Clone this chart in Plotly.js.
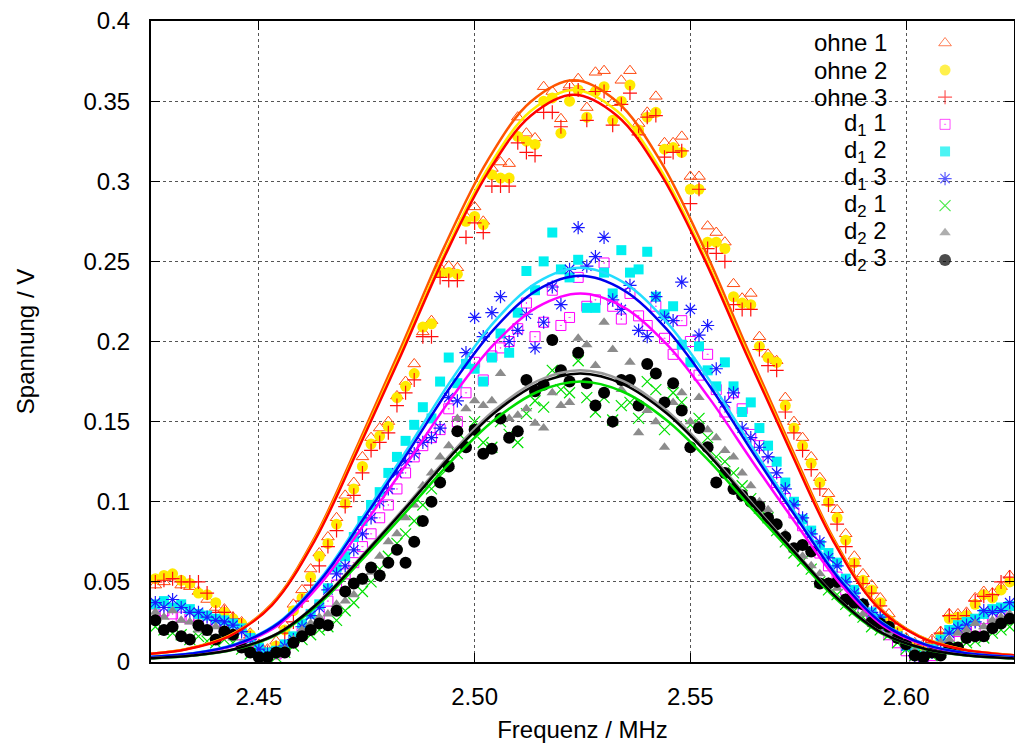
<!DOCTYPE html>
<html><head><meta charset="utf-8">
<script src="https://cdn.plot.ly/plotly-3.0.1.min.js"></script>
<style>html,body{margin:0;padding:0;background:#fff}#chart{width:1015px;height:747px}</style>
</head><body><div id="chart"></div>
<script>
// ---------- data ----------
const freq = [2.426,2.428,2.430,2.432,2.434,2.436,2.438,2.440,2.442,2.444,
2.446,2.448,2.450,2.452,2.454,2.456,2.458,2.460,2.462,2.464,
2.466,2.468,2.470,2.472,2.474,2.476,2.478,2.480,2.482,2.484,
2.486,2.488,2.490,2.492,2.494,2.496,2.498,2.500,2.502,2.504,
2.506,2.508,2.510,2.512,2.514,2.516,2.518,2.520,2.522,2.524,
2.526,2.528,2.530,2.532,2.534,2.536,2.538,2.540,2.542,2.544,
2.546,2.548,2.550,2.552,2.554,2.556,2.558,2.560,2.562,2.564,
2.566,2.568,2.570,2.572,2.574,2.576,2.578,2.580,2.582,2.584,
2.586,2.588,2.590,2.592,2.594,2.596,2.598,2.600,2.602,2.604,
2.606,2.608,2.610,2.612,2.614,2.616,2.618,2.620,2.622,2.624];

const ohne1 = [.048,.050,.053,.048,.047,.044,.039,.034,.033,.028,
.025,.018,.011,.008,.013,.023,.036,.045,.058,.068,
.078,.090,.104,.112,.128,.140,.146,.150,.166,.175,
.186,.206,.213,.246,.247,.246,.278,.284,.275,.308,
.312,.311,.340,.330,.327,.359,.356,.339,.360,.364,
.346,.368,.369,.349,.363,.369,.336,.343,.353,.324,
.324,.328,.303,.303,.272,.268,.262,.236,.227,.230,
.203,.192,.188,.165,.150,.140,.128,.115,.105,.095,
.080,.066,.055,.048,.040,.030,.022,.015,.012,.011,
.014,.019,.030,.030,.031,.040,.044,.043,.047,.054];

const ohne2 = [.052,.054,.055,.051,.049,.043,.042,.037,.031,.027,
.024,.017,.010,.006,.010,.020,.032,.040,.053,.066,
.074,.086,.099,.108,.122,.136,.141,.147,.165,.172,
.180,.209,.211,.243,.243,.242,.275,.278,.273,.304,
.302,.302,.328,.325,.323,.350,.352,.330,.350,.357,
.340,.356,.359,.338,.350,.360,.332,.340,.343,.320,
.321,.318,.295,.295,.262,.262,.258,.228,.224,.223,
.197,.190,.187,.160,.146,.135,.124,.112,.100,.090,
.076,.062,.051,.045,.037,.026,.019,.012,.010,.008,
.010,.016,.027,.028,.029,.036,.042,.040,.045,.050];

const ohne3 = [.050,.051,.052,.050,.050,.050,.043,.031,.031,.027,
.023,.015,.009,.006,.009,.018,.025,.038,.048,.060,
.072,.082,.097,.104,.118,.132,.137,.143,.160,.168,
.176,.203,.203,.240,.238,.238,.265,.274,.268,.297,
.297,.297,.324,.318,.316,.343,.343,.334,.357,.357,
.338,.356,.356,.335,.348,.355,.329,.340,.341,.315,
.318,.319,.286,.295,.258,.255,.250,.223,.220,.220,
.195,.185,.182,.156,.143,.132,.120,.108,.098,.086,
.072,.060,.049,.043,.035,.024,.017,.011,.010,.011,
.012,.018,.029,.027,.029,.038,.041,.042,.050,.053];

const d1_1 = [.030,.032,.030,.028,.027,.028,.025,.024,.022,.020,
.017,.013,.007,.004,.005,.008,.013,.018,.024,.030,
.038,.048,.055,.062,.072,.080,.090,.098,.108,.118,
.128,.135,.140,.145,.158,.150,.168,.187,.176,.191,
.196,.200,.208,.224,.203,.212,.232,.210,.215,.240,
.222,.226,.249,.222,.214,.230,.216,.210,.222,.202,
.192,.213,.200,.179,.192,.170,.156,.168,.158,.142,
.135,.125,.112,.102,.093,.085,.075,.068,.060,.053,
.045,.038,.032,.027,.023,.017,.012,.007,.002,.001,
.004,.010,.016,.019,.020,.022,.027,.027,.029,.031];

const d1_2 = [.036,.038,.034,.036,.033,.030,.029,.027,.026,.024,
.021,.015,.009,.006,.007,.011,.016,.024,.030,.036,
.046,.059,.066,.078,.088,.098,.106,.118,.128,.138,
.148,.159,.152,.175,.190,.174,.186,.183,.175,.190,
.205,.193,.218,.244,.232,.250,.268,.245,.240,.251,
.221,.221,.243,.230,.257,.243,.245,.256,.228,.217,
.222,.198,.187,.197,.182,.172,.187,.172,.156,.162,
.146,.135,.125,.112,.100,.089,.082,.073,.068,.062,
.052,.045,.036,.031,.027,.022,.016,.010,.006,.004,
.008,.014,.020,.023,.025,.027,.030,.033,.034,.035];

const d1_3 = [.037,.034,.039,.034,.031,.031,.028,.026,.025,.023,
.019,.014,.008,.005,.006,.010,.014,.022,.029,.034,
.045,.055,.060,.070,.080,.090,.100,.108,.118,.125,
.130,.137,.140,.146,.165,.163,.193,.215,.203,.218,
.228,.200,.207,.217,.196,.212,.234,.223,.245,.271,
.247,.253,.265,.226,.220,.235,.207,.203,.228,.215,
.213,.237,.220,.204,.210,.183,.162,.168,.146,.140,
.134,.128,.118,.108,.098,.090,.080,.075,.065,.060,
.050,.043,.036,.031,.028,.020,.016,.010,.004,.003,
.006,.012,.018,.021,.023,.025,.032,.031,.032,.037];

const d2_1 = [.022,.020,.018,.017,.014,.016,.013,.012,.014,.012,
.008,.005,.002,.001,.003,.006,.010,.014,.017,.020,
.022,.026,.032,.037,.044,.050,.058,.066,.074,.080,
.088,.098,.108,.116,.124,.130,.138,.150,.137,.134,
.150,.142,.137,.155,.163,.159,.182,.170,.168,.188,
.165,.156,.165,.151,.160,.162,.152,.175,.170,.145,
.168,.162,.148,.152,.140,.128,.125,.118,.110,.102,
.096,.090,.082,.075,.068,.063,.058,.050,.045,.042,
.036,.032,.028,.022,.020,.017,.012,.008,.004,.002,
.004,.006,.008,.010,.012,.013,.015,.018,.020,.022];

const d2_2 = [.031,.028,.032,.026,.025,.020,.018,.022,.016,.015,
.012,.008,.004,.003,.004,.008,.014,.020,.024,.028,
.030,.036,.038,.042,.050,.056,.066,.075,.080,.090,
.098,.110,.118,.128,.135,.152,.158,.163,.160,.163,
.180,.152,.154,.158,.149,.146,.168,.160,.162,.202,
.198,.185,.212,.195,.170,.187,.143,.157,.150,.134,
.162,.168,.150,.165,.145,.140,.132,.128,.118,.110,
.100,.095,.086,.080,.070,.066,.060,.055,.050,.046,
.040,.036,.030,.026,.022,.018,.015,.010,.007,.005,
.008,.012,.014,.018,.020,.024,.022,.026,.028,.030];

const d2_3 = [.026,.020,.022,.016,.014,.023,.020,.014,.019,.017,
.009,.006,.003,.003,.006,.006,.012,.016,.020,.024,
.023,.032,.044,.049,.052,.059,.054,.062,.070,.062,
.075,.088,.100,.112,.122,.144,.134,.145,.130,.133,
.152,.140,.144,.176,.169,.173,.201,.182,.175,.193,
.174,.160,.168,.150,.176,.176,.160,.186,.180,.162,
.174,.157,.134,.146,.134,.112,.118,.108,.104,.100,
.097,.090,.086,.078,.071,.073,.069,.049,.049,.050,
.039,.037,.036,.025,.024,.022,.015,.011,.004,.003,
.006,.004,.009,.009,.015,.016,.016,.021,.024,.027];

// fit curves
const fitFreqOhne = [2.413,2.423,2.433,2.443,2.453,2.463,2.473,2.483,2.493,2.503,2.513,2.523,
2.533,2.543,2.553,2.563,2.573,2.583,2.593,2.603,2.613,2.623,2.633];
const fitFreqD = [2.4145,2.4245,2.4345,2.4445,2.4545,2.4645,2.4745,2.4845,2.4945,2.5045,2.5145,2.5245,
2.5345,2.5445,2.5545,2.5645,2.5745,2.5845,2.5945,2.6045,2.6145,2.6245,2.6345];
const fitOhne1 = [.0029,.0047,.0080,.0163,.0363,.0780,.1361,.1967,.2592,.3129,.3496,.3630,.3496,.3129,.2592,.1967,.1361,.0780,.0363,.0163,.0080,.0047,.0029];
const fitOhne2 = [.0029,.0046,.0079,.0161,.0357,.0768,.1339,.1935,.2549,.3077,.3438,.3570,.3438,.3077,.2549,.1935,.1339,.0768,.0357,.0161,.0079,.0046,.0029];
const fitOhne3 = [.0028,.0046,.0078,.0159,.0354,.0761,.1328,.1919,.2528,.3051,.3409,.3540,.3409,.3051,.2528,.1919,.1328,.0761,.0354,.0159,.0078,.0046,.0028];
const fitD1_1 = [.0018,.0030,.0051,.0104,.0230,.0495,.0863,.1247,.1642,.1983,.2215,.2300,.2215,.1983,.1642,.1247,.0863,.0495,.0230,.0104,.0051,.0030,.0018];
const fitD1_2 = [.0020,.0032,.0054,.0111,.0246,.0529,.0923,.1333,.1756,.2121,.2369,.2460,.2369,.2121,.1756,.1333,.0923,.0529,.0246,.0111,.0054,.0032,.0020];
const fitD1_3 = [.0019,.0031,.0053,.0108,.0241,.0518,.0904,.1306,.1721,.2077,.2321,.2410,.2321,.2077,.1721,.1306,.0904,.0518,.0241,.0108,.0053,.0031,.0019];
const fitD2_1 = [.0014,.0023,.0039,.0079,.0175,.0376,.0656,.0949,.1250,.1509,.1685,.1750,.1685,.1509,.1250,.0949,.0656,.0376,.0175,.0079,.0039,.0023,.0014];
const fitD2_2 = [.0015,.0024,.0040,.0082,.0182,.0391,.0683,.0986,.1299,.1569,.1753,.1820,.1753,.1569,.1299,.0986,.0683,.0391,.0182,.0082,.0040,.0024,.0015];
const fitD2_3 = [.0014,.0023,.0040,.0081,.0180,.0387,.0675,.0976,.1285,.1552,.1733,.1800,.1733,.1552,.1285,.0976,.0675,.0387,.0180,.0081,.0040,.0023,.0014];

const seriesNames = ['ohne 1','ohne 2','ohne 3','d<sub>1</sub> 1','d<sub>1</sub> 2','d<sub>1</sub> 3','d<sub>2</sub> 1','d<sub>2</sub> 2','d<sub>2</sub> 3'];
const xTickVals = [2.45, 2.50, 2.55, 2.60];
const xTickText = ['2.45','2.50','2.55','2.60'];
const yTickVals = [0,0.05,0.1,0.15,0.2,0.25,0.3,0.35,0.4];
const yTickText = ['0','0.05','0.1','0.15','0.2','0.25','0.3','0.35','0.4'];

// ---------- styles ----------
const series = [ohne1, ohne2, ohne3, d1_1, d1_2, d1_3, d2_1, d2_2, d2_3];
const fits = [fitOhne1, fitOhne2, fitOhne3, fitD1_1, fitD1_2, fitD1_3, fitD2_1, fitD2_2, fitD2_3];
const fitX = [fitFreqOhne, fitFreqOhne, fitFreqOhne, fitFreqD, fitFreqD, fitFreqD, fitFreqD, fitFreqD, fitFreqD];
const mk = [
  {symbol:'triangle-up-open', size:11, color:'#ff4a10', lw:1},
  {symbol:'circle', size:11, color:'#ffea00', lw:0},
  {symbol:'cross-thin-open', size:10, color:'#ff1010', lw:1.2},
  {symbol:'square-open-dot', size:10, color:'#ff00ff', lw:1},
  {symbol:'square', size:10, color:'#00f0f0', lw:0},
  {symbol:'asterisk-open', size:11, color:'#1a1aff', lw:1.2},
  {symbol:'x-thin-open', size:11, color:'#00e000', lw:1.2},
  {symbol:'triangle-up', size:10, color:'#8c8c8c', lw:0},
  {symbol:'circle', size:12, color:'#000000', lw:0}
];
const fitColors = ['#ff5500','#ffee00','#ff0000','#ff00ff','#22ddff','#0000ee','#00dd00','#999999','#000000'];

const traces = [];
series.forEach((ys, i) => {
  traces.push({
    type:'scatter', mode:'markers', x:freq, y:ys, showlegend:false, hoverinfo:'skip',
    marker:{symbol:mk[i].symbol, size:mk[i].size, color:mk[i].color,
            line:{color:mk[i].color, width:mk[i].lw}}
  });
});
fits.forEach((ys, i) => {
  traces.push({
    type:'scatter', mode:'lines', x:fitX[i], y:ys, showlegend:false, hoverinfo:'skip',
    line:{color:fitColors[i], width:2.5, shape:'spline', smoothing:1}
  });
});

// key (gnuplot style: text left, symbol right)
const keyTop = 0.9657, keyStep = 0.0423, keyTextX = 0.8553, keySymX = 0.9201;
traces.push({
  type:'scatter', mode:'markers', xaxis:'x2', yaxis:'y2', showlegend:false, hoverinfo:'skip',
  x: seriesNames.map(() => keySymX),
  y: seriesNames.map((_, i) => keyTop - i*keyStep),
  marker:{symbol: mk.map(m => m.symbol), size: mk.map(m => m.size), color: mk.map(m => m.color),
          line:{color: mk.map(m => m.color), width: mk.map(m => m.lw)}}
});
const annotations = seriesNames.map((t, i) => ({
  xref:'paper', yref:'paper', x:keyTextX, y:keyTop - i*keyStep, xanchor:'right', yanchor:'middle',
  text:t, showarrow:false, font:{size:24, color:'#000'}
}));

const font = 'Liberation Sans, Arial, Helvetica, sans-serif';
const layout = {
  width:1015, height:747,
  margin:{l:151, r:1, t:21, b:85},
  paper_bgcolor:'#fff', plot_bgcolor:'#fff',
  font:{family:font, size:24, color:'#000'},
  showlegend:false,
  xaxis:{
    range:[2.425, 2.625], tickmode:'array', tickvals:xTickVals, ticktext:xTickText,
    ticks:'inside', ticklen:9, tickwidth:1, tickcolor:'#000',
    showline:true, linecolor:'#000', linewidth:2, mirror:'ticks',
    showgrid:true, gridcolor:'#555', griddash:'dot', gridwidth:1, zeroline:false,
    tickfont:{size:24, color:'#000'}, ticklabelstandoff:12,
    title:{text:'Frequenz / MHz', font:{size:24, color:'#000'}, standoff:12}
  },
  yaxis:{
    range:[0, 0.4], tickmode:'array', tickvals:yTickVals, ticktext:yTickText,
    ticks:'inside', ticklen:9, tickwidth:1, tickcolor:'#000',
    showline:true, linecolor:'#000', linewidth:2, mirror:'ticks',
    showgrid:true, gridcolor:'#555', griddash:'dot', gridwidth:1, zeroline:false,
    tickfont:{size:24, color:'#000'}, ticklabelstandoff:14,
    title:{text:'Spannung / V', font:{size:24, color:'#000'}, standoff:42}
  },
  xaxis2:{overlaying:'x', range:[0,1], visible:false, fixedrange:true},
  yaxis2:{overlaying:'y', range:[0,1], visible:false, fixedrange:true},
  shapes:[{type:'rect', xref:'paper', yref:'paper', x0:0.745, x1:0.983, y0:0.607, y1:0.994,
           fillcolor:'#fff', line:{width:0}, layer:'between'}],
  annotations: annotations
};

Plotly.newPlot('chart', traces, layout, {displayModeBar:false, staticPlot:true});
</script></body></html>
